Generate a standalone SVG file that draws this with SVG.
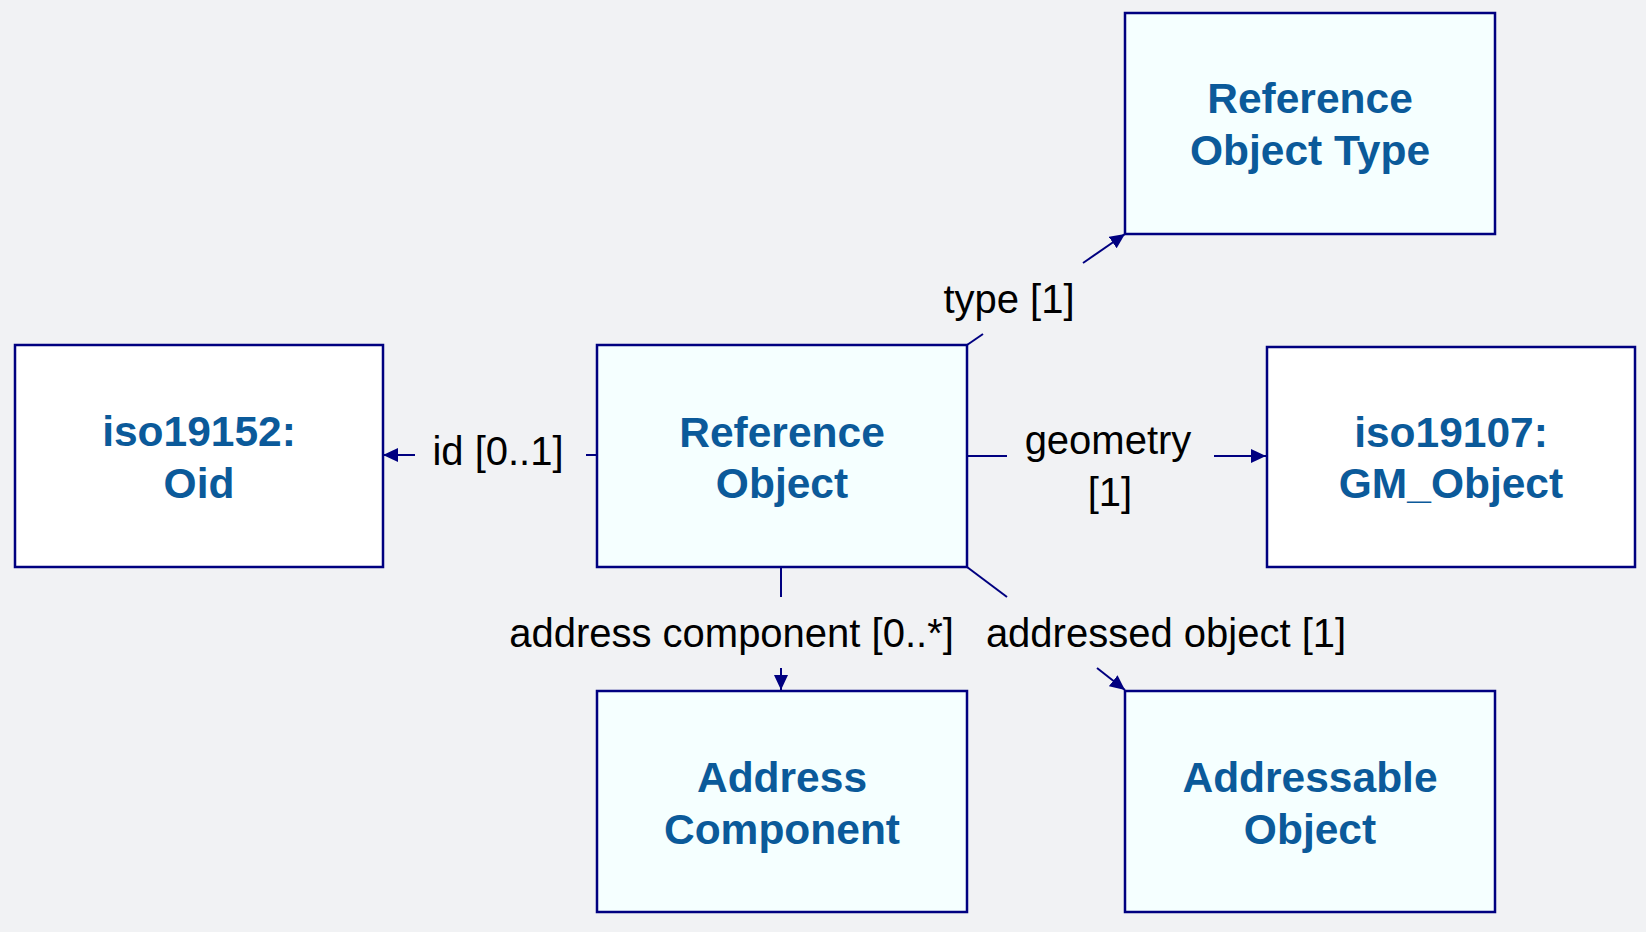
<svg xmlns="http://www.w3.org/2000/svg" width="1646" height="932" viewBox="0 0 1646 932">
<style>
.box{stroke:#000080;stroke-width:2.5}
.cls{fill:#f5ffff}
.ext{fill:#ffffff}
.nt{font-family:"Liberation Sans",Arial,sans-serif;font-weight:bold;font-size:42.5px;fill:#0b5a9a;text-anchor:middle}
.lb{font-family:"Liberation Sans",Arial,sans-serif;font-size:40px;fill:#000000;text-anchor:middle}
.cn{stroke:#000080;stroke-width:2;fill:none}
</style>
<defs>
<marker id="arr" markerUnits="userSpaceOnUse" markerWidth="16" markerHeight="14" refX="15" refY="7" orient="auto">
<path d="M0,0 L15,7 L0,14 z" fill="#000080"/>
</marker>
</defs>
<rect x="0" y="0" width="1646" height="932" fill="#f1f2f4"/>
<g id="connectors">
<g id="c-type">
<line class="cn" x1="967" y1="345" x2="983" y2="334"/>
<line class="cn" x1="1083" y1="263" x2="1125" y2="234" marker-end="url(#arr)"/>
<text class="lb" x="1009" y="313">type [1]</text>
</g>
<g id="c-id">
<line class="cn" x1="596" y1="455" x2="586" y2="455"/>
<line class="cn" x1="415" y1="455" x2="383" y2="455" marker-end="url(#arr)"/>
<text class="lb" x="498" y="465">id [0..1]</text>
</g>
<g id="c-geometry">
<line class="cn" x1="967" y1="456" x2="1007" y2="456"/>
<line class="cn" x1="1214" y1="456" x2="1266" y2="456" marker-end="url(#arr)"/>
<text class="lb" x="1108" y="454">geometry</text>
<text class="lb" x="1110" y="506">[1]</text>
</g>
<g id="c-addrcomp">
<line class="cn" x1="781" y1="567" x2="781" y2="597"/>
<line class="cn" x1="781" y1="668" x2="781" y2="690" marker-end="url(#arr)"/>
<text class="lb" x="731.5" y="647">address component [0..*]</text>
</g>
<g id="c-addrobj">
<line class="cn" x1="967" y1="567" x2="1007" y2="597"/>
<line class="cn" x1="1097" y1="668" x2="1125" y2="690" marker-end="url(#arr)"/>
<text class="lb" x="1166" y="647">addressed object [1]</text>
</g>
</g>
<g id="n-reftype">
<rect class="box cls" x="1125" y="13" width="370" height="221"/>
<text class="nt" x="1310" y="113">Reference</text>
<text class="nt" x="1310" y="165">Object Type</text>
</g>
<g id="n-oid">
<rect class="box ext" x="15" y="345" width="368" height="222"/>
<text class="nt" x="199" y="446">iso19152:</text>
<text class="nt" x="199" y="498">Oid</text>
</g>
<g id="n-refobj">
<rect class="box cls" x="597" y="345" width="370" height="222"/>
<text class="nt" x="782" y="447">Reference</text>
<text class="nt" x="782" y="498">Object</text>
</g>
<g id="n-gm">
<rect class="box ext" x="1267" y="347" width="368" height="220"/>
<text class="nt" x="1451" y="447">iso19107:</text>
<text class="nt" x="1451" y="498">GM_Object</text>
</g>
<g id="n-addrcomp">
<rect class="box cls" x="597" y="691" width="370" height="221"/>
<text class="nt" x="782" y="792">Address</text>
<text class="nt" x="782" y="844">Component</text>
</g>
<g id="n-addrobj">
<rect class="box cls" x="1125" y="691" width="370" height="221"/>
<text class="nt" x="1310" y="792">Addressable</text>
<text class="nt" x="1310" y="844">Object</text>
</g>
</svg>
